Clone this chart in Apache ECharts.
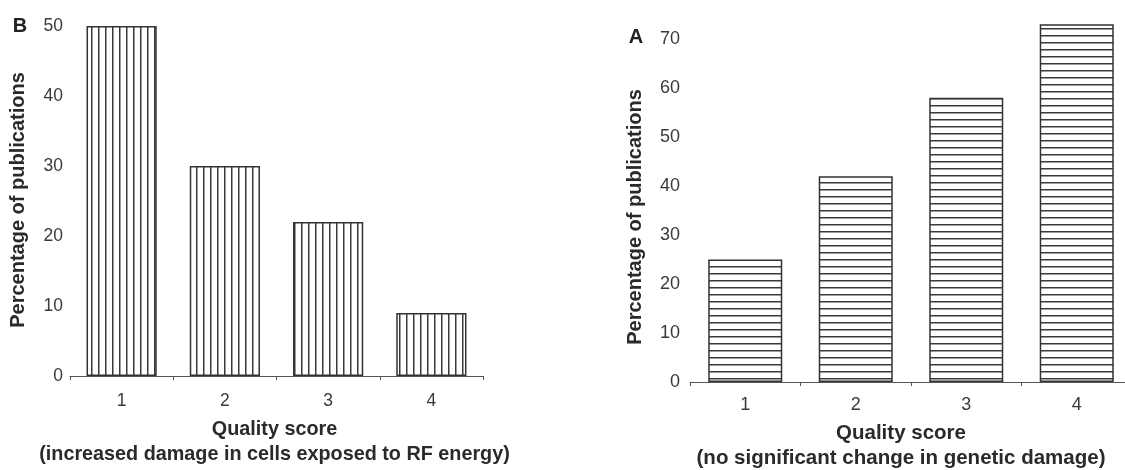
<!DOCTYPE html>
<html>
<head>
<meta charset="utf-8">
<script src="https://cdn.jsdelivr.net/npm/echarts@6/dist/echarts.min.js"></script>
<style>
html,body{margin:0;padding:0;background:#fff;}
#c{width:1125px;height:470px;}
</style>
</head>
<body>
<div id="c"></div>
<script>
const categories = ['1', '2', '3', '4'];
const valuesB = [50, 30, 22, 9];
const valuesA = [25, 42, 58, 73];
const yTicksB = [0, 10, 20, 30, 40, 50];
const yTicksA = [0, 10, 20, 30, 40, 50, 60, 70];
const yTitle = 'Percentage of publications';
const xTitleB = 'Quality score\n(increased damage in cells exposed to RF energy)';
const xTitleA = 'Quality score\n(no significant change in genetic damage)';

function stripe(vertical, gap) {
  const c = document.createElement('canvas');
  c.width = vertical ? gap : 10;
  c.height = vertical ? 10 : gap;
  const g = c.getContext('2d');
  g.fillStyle = '#ffffff';
  g.fillRect(0, 0, c.width, c.height);
  g.fillStyle = '#3a3a3a';
  if (vertical) g.fillRect(0, 0, 1.5, c.height);
  else g.fillRect(0, 0, c.width, 1.5);
  return { image: c, repeat: 'repeat' };
}

const font = '"Liberation Sans", Arial, sans-serif';
const chart = echarts.init(document.getElementById('c'), null, { renderer: 'canvas' });

function xAxis(gridIndex, name, gap, fs, lh, lblFs, lblMargin, pad) {
  return {
    type: 'category', gridIndex, data: categories,
    axisLine: { show: true, lineStyle: { color: '#555', width: 1 } },
    axisTick: { show: true, length: 4, lineStyle: { color: '#555' } },
    axisLabel: { color: '#3a3a3a', fontSize: lblFs, fontFamily: font, margin: lblMargin },
    name, nameLocation: 'middle', nameGap: gap,
    nameTextStyle: { color: '#2a2a2a', fontWeight: 'bold', fontSize: fs, fontFamily: font, lineHeight: lh, verticalAlign: 'top', padding: pad }
  };
}
function yAxis(gridIndex, max, ticks, fs, margin) {
  return {
    type: 'value', gridIndex, min: 0, max, interval: 10,
    axisLine: { show: false }, axisTick: { show: false }, splitLine: { show: false },
    axisLabel: { color: '#3a3a3a', fontSize: fs, fontFamily: font, margin,
      formatter: v => ticks.indexOf(v) >= 0 ? String(v) : '' }
  };
}

chart.setOption({
  animation: false,
  backgroundColor: '#ffffff',
  grid: [
    { left: 70, top: 26, width: 413, height: 350, outerBoundsMode: 'none', containLabel: false },
    { left: 690, top: 14.5, width: 442, height: 367.5, outerBoundsMode: 'none', containLabel: false }
  ],
  xAxis: [
    xAxis(0, xTitleB, 41, 19.8, 25, 17.5, 16, [0, 4, 0, 0]),
    xAxis(1, xTitleA, 39, 20.5, 25, 18, 14, [0, 20, 0, 0])
  ],
  yAxis: [
    yAxis(0, 50, yTicksB, 17.5, 7),
    yAxis(1, 75, yTicksA, 18, 10)
  ],
  graphic: [
    { type: 'text', x: 20, y: 26, style: { text: 'B', font: 'bold 20px ' + font, fill: '#222', align: 'center', verticalAlign: 'middle' } },
    { type: 'text', x: 636, y: 37, style: { text: 'A', font: 'bold 20px ' + font, fill: '#222', align: 'center', verticalAlign: 'middle' } },
    { type: 'text', x: 18, y: 200, rotation: Math.PI / 2,
      style: { text: yTitle, font: 'bold 20px ' + font, fill: '#2a2a2a', align: 'center', verticalAlign: 'middle' } },
    { type: 'text', x: 635, y: 217, rotation: Math.PI / 2,
      style: { text: yTitle, font: 'bold 20px ' + font, fill: '#2a2a2a', align: 'center', verticalAlign: 'middle' } }
  ],
  series: [
    { type: 'bar', xAxisIndex: 0, yAxisIndex: 0, data: valuesB, barWidth: '68%',
      itemStyle: { color: stripe(true, 7), borderColor: '#333', borderWidth: 1.5 } },
    { type: 'bar', xAxisIndex: 1, yAxisIndex: 1, data: valuesA, barWidth: '67%',
      itemStyle: { color: stripe(false, 7), borderColor: '#333', borderWidth: 1.5 } }
  ]
});
</script>
</body>
</html>
